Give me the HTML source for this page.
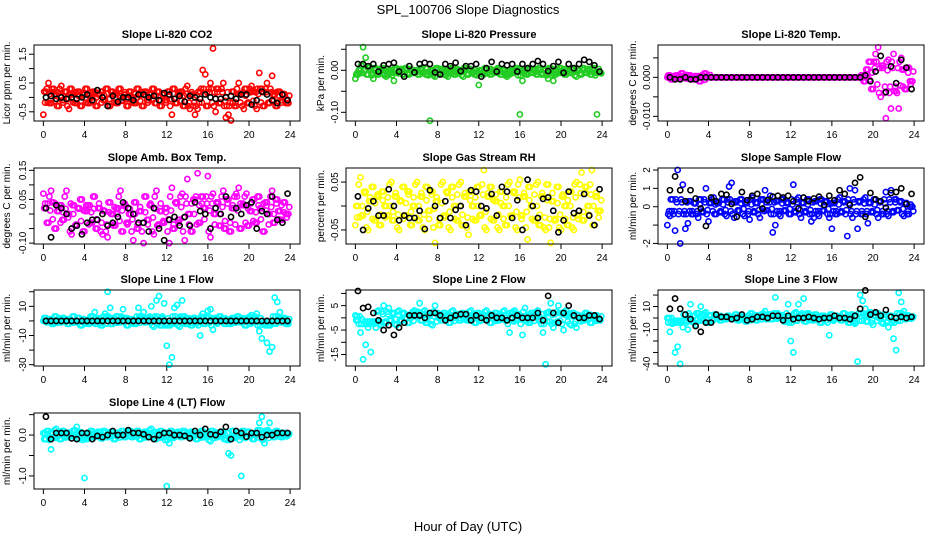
<!DOCTYPE html>
<html><head><meta charset="utf-8"><style>
body{margin:0;background:#fff}
svg{display:block}
text{font-family:"Liberation Sans",sans-serif;fill:#000}
.t{font-weight:bold;font-size:11px}
.k{font-size:10px}
</style></head><body>
<svg id="chart" width="936" height="540" viewBox="0 0 936 540" xmlns="http://www.w3.org/2000/svg">
<text x="468" y="14" text-anchor="middle" font-size="13">SPL_100706  Slope Diagnostics</text>
<text x="468" y="531" text-anchor="middle" font-size="13">Hour of Day (UTC)</text>
</svg>
<script>
const xTicks=[0,4,8,12,16,20,24];
const co2Color=[-0.6,0.2,0.5,-0.2,0.3,0.1,-0.3,0.4,-0.1,0.2,-0.4,0.3,0.1,-0.2,0.2,-0.3,0.1,0.3,-0.2,0.0,0.2,-0.3,0.1,0.2,-0.1,0.3,-0.3,0.2,0.1,-0.2,0.3,-0.1,0.1,-0.3,0.2,0.0,-0.2,0.3,0.1,-0.3,0.2,-0.1,0.1,0.3,-0.2,0.2,-0.3,0.1,-0.1,0.2,-0.6,0.3,-0.2,0.1,0.2,-0.3,0.4,-0.4,0.1,-0.6,-0.4,0.2,0.95,0.8,-0.3,0.5,1.7,-0.5,0.3,-0.2,0.5,-0.7,-0.6,-0.8,0.2,-0.3,0.5,0.1,-0.4,0.3,-0.2,0.4,0.2,-0.4,0.85,0.3,-0.3,0.5,-0.2,0.75,0.1,-0.3,0.2,-0.1,0.1,-0.2];
const co2Black=[0.0,0.05,-0.05,0.0,-0.05,0.0,-0.05,0.0,0.1,-0.1,0.25,0.0,-0.3,0.05,-0.15,0.0,0.0,-0.1,0.1,0.1,0.0,0.05,-0.1,0.15,0.1,-0.05,0.05,-0.15,0.05,0.0,-0.05,0.1,0.0,-0.05,-0.05,0.0,0.05,-0.05,0.1,0.1,-0.25,-0.1,0.2,0.1,-0.1,-0.2,0.1,-0.1];
const presColor=[-0.02,-0.01,0.0,0.055,0.03,-0.01,0.0,-0.02,0.005,-0.01,0.0,0.005,-0.015,-0.01,0.0,-0.025,0.005,-0.005,0.0,-0.01,0.005,-0.01,0.0,-0.005,0.0,-0.01,0.005,-0.005,-0.01,-0.12,0.0,-0.015,0.005,-0.005,0.0,-0.01,-0.015,0.0,0.005,-0.01,-0.005,0.0,-0.015,0.005,-0.01,0.0,-0.005,-0.01,-0.035,0.0,-0.01,0.005,-0.005,-0.01,0.0,-0.005,0.005,-0.01,0.0,-0.015,-0.01,0.0,-0.005,0.005,-0.105,-0.025,0.0,-0.01,0.005,-0.005,0.0,-0.01,0.005,-0.01,0.0,-0.02,0.005,-0.025,-0.01,0.0,0.005,-0.005,-0.01,0.0,-0.005,0.005,-0.015,0.0,-0.01,0.005,-0.005,0.0,-0.01,0.005,-0.105,-0.005];
const presBlack=[0.015,0.015,0.01,0.015,-0.003,0.012,0.015,0.018,-0.003,-0.015,0.01,-0.005,0.015,0.018,0.015,-0.005,-0.01,0.015,0.01,0.018,-0.002,0.01,0.01,0.015,-0.015,0.005,0.02,-0.003,0.015,0.012,0.015,-0.003,0.015,0.005,0.015,0.022,0.015,-0.002,0.01,0.02,-0.006,0.015,0.005,0.015,0.025,0.02,0.012,-0.003];
const tempColor=[0,0.0005,-0.0005,0.0003,0.0005,-0.0003,0.001,0,-0.0003,0.0005,-0.0005,0,0.0003,-0.001,0.0005,0.001,0,0,0,0,0,0,0,0,0,0,0,0,0,0,0,0,0,0,0,0,0,0,0,0,0,0,0,0,0,0,0,0,0,0,0,0,0,0,0,0,0,0,0,0,0,0,0,0,0,0,0,0,0,0,0,0,0,0,0,0,0.0005,-0.001,0.002,0.004,-0.003,0.006,0.0077,-0.005,0.003,-0.0105,0.0045,-0.008,0.006,-0.0035,-0.008,0.005,0.002,-0.003,0.0025,-0.001];
const tempBlack=[0,-0.0005,-0.0005,0,-0.0005,-0.0005,0,0,0,0,0,0,0,0,0,0,0,0,0,0,0,0,0,0,0,0,0,0,0,0,0,0,0,0,0,0,0,0,0.0005,-0.001,0.0015,0.0055,-0.0038,0.0028,-0.0015,0.0045,0.0025,-0.003];
const ambColor=[0.07,0.02,-0.03,0.08,0.04,-0.05,0.01,0.03,-0.02,0.08,0.0,-0.07,0.03,-0.04,0.02,0.05,-0.06,0.01,0.03,-0.03,0.06,-0.05,0.02,-0.07,0.01,-0.08,0.04,0.0,-0.04,0.02,0.08,-0.06,0.03,-0.03,0.0,-0.09,0.04,-0.05,0.01,-0.10,0.06,-0.02,0.03,-0.07,0.08,-0.04,0.01,-0.03,0.02,-0.10,0.09,-0.05,0.04,-0.02,0.07,-0.09,0.12,0.0,-0.06,0.05,0.14,-0.03,0.06,0.02,0.13,-0.08,0.07,0.0,0.04,-0.04,0.08,-0.05,0.05,-0.06,0.02,0.07,0.09,-0.05,0.03,0.07,-0.04,0.01,0.05,-0.03,0.06,0.02,-0.06,0.04,0.0,0.08,-0.03,0.05,0.01,-0.02,0.04,0.0];
const ambBlack=[0.02,-0.08,0.03,0.02,0.0,-0.05,-0.04,-0.07,-0.03,-0.02,-0.02,0.0,-0.04,-0.03,-0.01,0.04,0.02,0.0,-0.03,-0.03,-0.06,0.02,-0.05,-0.09,-0.02,-0.01,-0.04,-0.01,-0.04,0.04,0.01,0.0,-0.05,0.02,0.0,0.06,-0.01,0.02,0.0,0.03,0.04,-0.05,0.01,0.0,0.06,-0.02,-0.03,0.07];
const rhColor=[-0.04,0.0,0.06,-0.02,0.03,-0.05,0.01,0.04,-0.03,0.02,-0.04,0.03,0.0,-0.02,0.05,-0.03,0.02,-0.05,0.01,0.04,-0.02,0.03,-0.04,0.0,0.05,-0.03,0.02,-0.05,0.04,-0.01,0.03,-0.077,0.01,-0.04,0.05,-0.02,0.03,-0.05,0.04,0.0,-0.03,0.05,-0.04,0.02,-0.06,0.03,0.0,-0.03,0.04,-0.02,0.075,-0.05,0.02,0.04,-0.03,0.01,-0.05,0.03,0.0,-0.04,0.05,-0.02,0.03,-0.05,0.055,-0.02,0.02,-0.07,0.04,0.0,-0.03,0.05,-0.04,0.02,-0.05,0.045,-0.077,0.01,-0.03,0.04,-0.05,0.02,0.0,-0.04,0.03,-0.05,0.05,-0.02,0.07,-0.03,0.04,0.0,0.075,-0.04,0.02,-0.01];
const rhBlack=[0.02,-0.05,-0.005,0.01,-0.02,-0.02,0.035,0.0,-0.03,-0.02,-0.025,-0.025,-0.01,-0.048,0.033,0.0,-0.025,0.01,-0.025,-0.008,0.0,-0.04,0.033,0.03,0.0,-0.005,0.025,-0.02,0.04,0.03,-0.025,0.012,-0.05,0.055,0.0,-0.025,0.015,0.018,-0.01,-0.055,-0.03,0.03,-0.015,-0.01,0.025,-0.02,-0.04,0.035];
const sampColor=[-1.0,-0.5,0.4,-1.3,2.0,-2.0,1.2,-1.2,-0.9,0.3,-0.4,0.2,-0.6,0.4,-0.3,1.0,-0.8,0.2,0.5,-0.4,0.2,-0.3,0.4,-0.5,1.1,1.3,-0.6,0.3,-0.2,0.4,-0.5,0.2,-0.7,0.5,-0.3,0.2,-0.6,0.4,0.9,-0.2,0.6,-1.4,-1.0,0.3,-0.5,0.4,-0.2,0.2,-0.4,1.2,-0.3,0.5,-0.6,0.2,-0.3,0.4,-0.8,-0.6,0.3,-0.5,0.4,-0.2,0.3,-0.6,-1.2,0.2,-0.4,0.5,-0.3,0.3,-1.6,1.0,-0.6,0.9,-1.2,0.3,-0.4,0.5,-0.9,0.2,-0.3,0.4,-0.6,0.3,-0.4,0.8,-0.5,0.9,-0.3,0.4,-0.2,0.3,-0.5,0.2,-0.4,0.0];
const sampBlack=[0.9,1.65,0.9,0.3,0.9,0.45,-0.1,-1.05,0.5,0.3,0.7,0.65,0.15,-0.55,0.8,0.35,0.6,0.7,-0.1,0.35,0.55,0.6,0.5,0.6,0.3,-0.1,0.5,0.3,0.45,0.55,0.1,0.6,0.35,0.9,0.7,0.1,1.3,1.6,-0.55,0.75,0.4,0.3,-0.05,0.75,0.8,1.0,0.15,0.7];
const l1Color=[0,2,-1,1,-2,3,0,-1,2,1,-2,0,3,-1,2,-3,1,0,-2,3,6,-2,1,-3,5,20,9,-2,1,3,-1,8,2,-3,0,1,-2,9,3,6,-1,2,10,-4,14,17,-3,12,-17,-30,-25,9,11,-4,14,3,-2,1,-3,2,-1,-10,5,-2,7,8,-6,2,-1,3,0,-2,1,-2,2,0,3,-1,1,-3,2,4,-1,5,-7,-12,-1,-15,-21,-18,16,13,6,-1,2,-2];
const l1Black=[0,0,0,0,0,0,0,0,0,0,0,0,0,0,0,0,0,0,0,0,0,0,0,0,0,0,0,0,0,0,0,0,0,0,0,0,0,0,0,0,0,0,0,0,0,0,0,0];
const l2Color=[1,-1,-6,-17,-11,-4,-14,-2,-4,3,-3,5,-2,4,-1,2,-3,3,-1,2,0,-2,1,3,2,6,-1,3,-2,1,-3,5,2,0,-1,2,1,-2,3,0,1,-1,2,0,-1,3,1,-2,2,-1,1,3,0,-2,1,2,-1,0,3,-1,-6,2,3,-1,1,-7,4,0,-2,2,1,3,-1,-6,-19,2,6,-4,-2,5,2,-5,3,1,-3,2,-4,1,0,-1,2,1,-2,0,1,-1];
const l2Black=[11,4,4.5,2,-1,-5,-3,-7,-4,-2,1,1,1,0,2,2,1,-1,0,1,1.5,1.5,-1,1,0,-1,1,0,0,-1,0,1,0,0,0,2,-1,9,2,-2,2,5,1,0,0,1,1,-0.5];
const l3Color=[0,-12,-5,-30,-25,-40,-8,3,-10,12,-3,-6,4,10,-2,5,-4,2,-1,3,0,-2,1,-1,2,0,-1,3,-2,1,0,-3,2,4,0,-2,1,3,6,-1,3,-1,18,4,0,2,-3,12,-20,-30,5,12,0,17,-3,4,0,-2,3,1,-4,2,0,-15,3,-1,2,0,-2,4,0,-4,3,-5,-38,20,15,8,-3,5,-6,2,4,0,-5,3,-8,2,-18,-28,22,14,6,-1,2,0];
const l3Black=[8,17,8,3,-1,-7,-12,-4,-4,3,1,1,-1,0,3,-2,-1,1,1,0,2,2,-2,2,-1,0,0,1,0,-1,0,0,2,0,0,-1,2,8,24,3,5,2,7,1,0,1,0,1];
const l4Color=[0.05,-0.1,0.1,-0.35,-0.05,0.15,0.0,-0.1,0.1,0.05,-0.05,0.0,0.1,0.2,-0.1,0.05,-1.05,-0.1,0.05,0.1,-0.05,0.0,0.08,-0.08,0.1,-0.05,0.0,0.08,-0.1,0.05,0.0,0.1,-0.05,0.08,0.1,-0.05,0.0,0.1,-0.1,0.05,0.08,-0.05,0.15,0.0,-0.1,0.05,0.1,-0.05,-1.25,-0.2,0.1,-0.05,0.0,0.08,-0.05,0.1,0.0,-0.05,0.08,0.0,-0.1,0.05,0.1,-0.05,0.0,-0.15,0.1,0.05,-0.05,0.0,0.08,-0.1,-0.45,-0.5,0.1,-0.05,0.0,-1.0,0.1,-0.05,0.08,0.0,-0.1,0.05,0.3,0.45,-0.2,0.1,0.3,0.05,-0.05,0.1,0.0,-0.05,0.05,0.0];
const l4Black=[0.45,-0.1,0.05,0.05,0.05,-0.08,-0.1,0.05,0.05,-0.1,-0.02,-0.05,0.0,0.1,0.0,0.0,0.12,0.05,0.05,0.02,-0.05,-0.1,0.0,0.05,0.05,0.0,0.0,-0.02,-0.08,0.1,0.0,0.15,0.02,0.0,0.08,0.2,-0.1,0.1,0.05,-0.04,0.05,0.05,-0.05,0.0,0.0,0.05,0.05,0.05];

const panels=[
 {name:'co2',title:'Slope Li-820 CO2',yl:'Licor ppm per min.',col:0,row:0,y0:-0.82,y1:1.82,ticks:[-0.5,0,0.5,1,1.5],labs:['-0.5','','0.5','','1.5'],c:'#ff0000',band:0.3,cv:co2Color,bv:co2Black},
 {name:'pressure',title:'Slope Li-820 Pressure',yl:'kPa per min.',col:1,row:0,y0:-0.1207,y1:0.0602,ticks:[-0.1,-0.05,0,0.05],labs:['-0.10','','0.00',''],c:'#22cc22',band:0.012,cv:presColor,bv:presBlack},
 {name:'temp',title:'Slope Li-820 Temp.',yl:'degrees C per min.',col:2,row:0,y0:-0.0112,y1:0.0083,ticks:[-0.01,-0.005,0,0.005],labs:['-0.010','','0.000',''],c:'#ff00ff',band:0.004,cv:tempColor,bv:tempBlack},
 {name:'amb-box-temp',title:'Slope Amb. Box Temp.',yl:'degrees C per min.',col:0,row:1,y0:-0.103,y1:0.158,ticks:[-0.1,-0.05,0,0.05,0.1,0.15],labs:['-0.10','','','0.05','','0.15'],c:'#ff00ff',band:0.06,cv:ambColor,bv:ambBlack},
 {name:'gas-rh',title:'Slope Gas Stream RH',yl:'percent per min.',col:1,row:1,y0:-0.0794,y1:0.0794,ticks:[-0.05,0,0.05],labs:['-0.05','','0.05'],c:'#ffff00',band:0.045,cv:rhColor,bv:rhBlack},
 {name:'sample-flow',title:'Slope Sample Flow',yl:'ml/min per min.',col:2,row:1,y0:-2.03,y1:2.11,ticks:[-2,-1,0,1,2],labs:['-2','','0','1','2'],c:'#0000ff',band:0.4,cv:sampColor,bv:sampBlack},
 {name:'line1-flow',title:'Slope Line 1 Flow',yl:'ml/min per min.',col:0,row:2,y0:-30.9,y1:21.2,ticks:[-30,-20,-10,0,10,20],labs:['-30','','-10','','10',''],c:'#00ffff',band:3,cv:l1Color,bv:l1Black},
 {name:'line2-flow',title:'Slope Line 2 Flow',yl:'ml/min per min.',col:1,row:2,y0:-19.7,y1:11.4,ticks:[-15,-10,-5,0,5,10],labs:['-15','','-5','','5',''],c:'#00ffff',band:2.5,cv:l2Color,bv:l2Black},
 {name:'line3-flow',title:'Slope Line 3 Flow',yl:'ml/min per min.',col:2,row:2,y0:-41.8,y1:24.4,ticks:[-40,-30,-20,-10,0,10,20],labs:['-40','','','-10','','10',''],c:'#00ffff',band:4,cv:l3Color,bv:l3Black},
 {name:'line4-flow',title:'Slope Line 4 (LT) Flow',yl:'ml/min per min.',col:0,row:3,y0:-1.32,y1:0.54,ticks:[-1,-0.5,0,0.5],labs:['-1.0','','0.0',''],c:'#00ffff',band:0.12,cv:l4Color,bv:l4Black}
];
const NS='http://www.w3.org/2000/svg';
const svg=document.getElementById('chart');
function mk(tag,attrs,parent){const e=document.createElementNS(NS,tag);for(const k in attrs)e.setAttribute(k,attrs[k]);(parent||svg).appendChild(e);return e;}
const colL=[34,346,658],W=266,rowT=[45,168,290,413],H=76;
panels.forEach(p=>{
 const L=colL[p.col],T=rowT[p.row],B=T+H,R=L+W;
 const g=mk('g',{});
 
 
 const xs=h=>L+(h+0.91)/(24.96+0.91)*W;
 const ys=v=>B-(v-p.y0)/(p.y1-p.y0)*H;
 const clamp=v=>Math.max(-p.band,Math.min(p.band,v));
 const tt=mk('text',{x:L+W/2,y:T-7,'text-anchor':'middle',class:'t'},g);tt.textContent=p.title;
 
 
 const yl=mk('text',{transform:`translate(${p.col>0?L-22:L-24},${T+H/2}) rotate(-90)`,'text-anchor':'middle',class:'k'},g);yl.textContent=p.yl;
 
 
 xTicks.forEach(h=>{const x=xs(h);mk('line',{x1:x,x2:x,y1:B,y2:B+5,stroke:'#000'},g);
  const t=mk('text',{x:x,y:B+17,'text-anchor':'middle',class:'k'},g);t.textContent=h;
  
  });
 p.ticks.forEach((v,i)=>{const y=ys(v);mk('line',{x1:L-5,x2:L,y1:y,y2:y,stroke:'#000'},g);
  if(p.labs[i]){const t=mk('text',{transform:`translate(${L-8},${y}) rotate(-90)`,'text-anchor':'middle',class:'k'},g);t.textContent=p.labs[i];
  
  }});
 const pts=mk('g',{fill:'none','stroke-width':1.6},g);
 const n=p.cv.length;
 p.cv.forEach((v,i)=>{
  const a=clamp(p.cv[Math.min(n-1,i+1)]);
  const b=0.6*clamp(p.cv[Math.max(0,i-1)]);
  const c1=mk('circle',{cx:xs(i*0.25+0.083),cy:ys(a),r:2.6,stroke:p.c},pts);
  
  
  const c2=mk('circle',{cx:xs(i*0.25+0.166),cy:ys(b),r:2.6,stroke:p.c},pts);
  
  
 });
 p.cv.forEach((v,i)=>{const c=mk('circle',{cx:xs(i*0.25),cy:ys(v),r:2.6,stroke:p.c},pts);
  
  });
 p.bv.forEach((v,i)=>{const c=mk('circle',{cx:xs(0.25+i*0.5),cy:ys(v),r:2.6,stroke:'#000'},pts);
  
  });
 const box=mk('rect',{x:L,y:T,width:W,height:H,fill:'none',stroke:'#000'},g);
 
 
});
</script>
</body></html>
